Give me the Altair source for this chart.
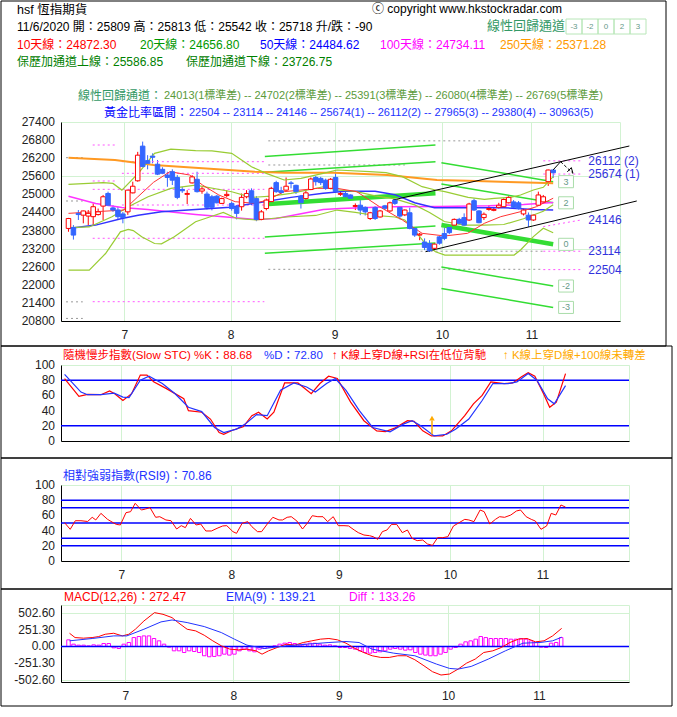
import altair as alt
import pandas as pd

FONT = "Liberation Sans, Noto Sans CJK TC, sans-serif"
UP = "#ff0000"
DOWN = "#3366ff"
GRID = "#d2f2d2"

# ---------------- candles (trading-day index) ----------------
OPEN = [23870,23900,24370,24310,24280,24260,24330,24610,25030,24550,
        24480,24350,24420,25050,25450,26600,26120,26270,26000,25830,
        25640,25750,25560,25160,25000,25380,25500,25110,25010,24920,
        24940,24700,24960,24700,24590,24590,24920,25120,24860,24170,
        24530,24760,25390,25120,25140,25380,25300,24940,24860,25160,
        25560,25530,25470,25200,25560,25000,25030,24980,24600,24640,
        24570,24200,24560,24250,24620,24450,24810,24570,24320,24390,
        23870,23650,23420,23370,23210,23590,23700,23900,23980,24170,
        24230,24150,24790,24450,24230,24500,24470,24570,24590,24720,
        24750,24720,24350,24310,24150,24640,24750,25420,25809]
HIGH = [24220,23980,24480,24460,24480,24700,24530,24980,25090,24640,
        24590,24420,25150,25420,26410,26750,26300,26360,26140,25900,
        25750,25830,25640,25250,25140,25640,25750,25250,25090,24980,
        24980,24890,25140,24760,24640,25030,25140,25200,24940,24480,
        24860,25250,25450,25250,25560,25440,25320,24980,25140,25560,
        25610,25580,25520,25540,25750,25080,25100,25000,24700,24810,
        24600,24420,24610,24480,24650,24760,24860,24610,24500,24560,
        23900,23720,23540,23480,23390,23620,23900,23950,24200,24220,
        24370,24720,24860,24480,24400,24640,24560,24720,24870,24940,
        24810,24780,24520,24400,24330,25090,24980,25820,25813]
LOW = [23760,23500,24150,24040,23980,23980,24300,24150,24610,24420,
       24150,24040,24320,25030,25420,25920,25830,26030,25640,25670,
       25250,25310,24840,25050,24680,25360,25060,25020,24500,24470,
       24700,24680,24900,24460,24170,24460,24870,24640,24110,24140,
       24470,24700,25050,25030,25120,25200,25010,24530,24810,25140,
       25290,25310,25150,25170,25050,24950,24880,24820,24480,24310,
       24300,24150,24150,24230,24480,24420,24650,24170,24280,23840,
       23590,23480,23150,23090,23200,23330,23480,23680,23900,23990,
       23950,24120,24450,24040,24150,24460,24440,24530,24570,24700,
       24540,24500,24300,23920,24120,24620,24720,25280,25542]
CLOSE = [24200,23650,24330,24450,24370,24590,24420,24920,24640,24480,
         24260,24230,25140,25270,26300,25920,26030,26230,25670,25700,
         25560,25470,24900,25120,25030,25580,25090,25180,24570,24570,
         24720,24860,25000,24530,24370,24900,25030,24720,24170,24420,
         24810,25200,25090,25060,25270,25360,25090,24720,25050,25510,
         25420,25390,25200,25500,25090,25030,24920,24870,24630,24480,
         24420,24390,24200,24450,24540,24720,24700,24280,24480,23870,
         23650,23680,23240,23130,23350,23380,23540,23730,24170,24040,
         23980,24680,24480,24060,24340,24530,24500,24640,24830,24900,
         24570,24530,24480,24150,24310,24980,24920,25808,25718]

MONTH_TICKS = [11.3, 32.8, 53.8, 75.5, 93.6]
MONTH_LABELS = ["7", "8", "9", "10", "11"]
MAIN_TICKS = list(range(20800, 27401, 600))
MAIN_TICK_LABELS = [str(v) for v in MAIN_TICKS]
PCT_TICKS = [0, 20, 40, 60, 80, 100]
PCT_TICK_LABELS = ["0", "20", "40", "60", "80", "100"]

# ---------------- moving averages / bands ----------------
MA10_X = [0,5,11.2,13.9,17.2,20.5,24.5,27.1,30.4,33.7,37.7,40.3,43.6,47,50.3,54.3,58.3,62.9,67.5,71.5,76.1,80.7,84.1,87.4,91.4,94.6,98]
MA10_Y = [24370,24420,24480,24900,25400,25752,25642,25310,24979,24757,24703,24813,25089,25144,25199,25200,25089,24590,24150,23708,23620,23708,24040,24260,24425,24590,24872]
MID_X = [0,4.2,8.8,12.1,16.1,20.7,25.7,33,37,41,45,51.5,54.3,58,62,66,70,73,76,80,84,88,92,96,98]
MID_Y = [23900,23920,24256,24588,24920,25197,25308,25086,24898,24943,25031,25252,25150,25100,24950,24850,24650,24400,24100,23980,23980,24000,24190,24440,24657]
BU_X = [0,7,9,10.8,14.1,17.4,20.7,25.7,29,33,35,37,40,43.6,47,51.5,54.3,60.9,64.2,67.5,71.5,74.2,76.1,80.8,84.1,86.1,89.4,91.4,94,96,98]
BU_Y = [25330,25388,25363,25142,25695,26360,26500,26450,26440,26360,26140,25917,25695,25476,25532,25695,25808,25752,25720,25587,25254,25144,25089,24902,24836,24869,24902,24979,25144,25233,25587]
BL_X = [0,4.2,7.5,10.5,12.1,13.1,14.8,17.4,18.8,21.4,25.7,28.7,31.3,34,38,44,50,54.3,58,62,66,68,70,72,74.2,76.1,82,90.1,91.4,94,96,98]
BL_Y = [22485,22485,23038,23758,23836,23800,23592,23370,23360,23592,24090,24256,24400,24200,24150,24250,24300,24480,24400,24300,24250,24150,23800,23400,23098,22988,22988,22988,23154,23597,23874,23727]
MA50_X = [0,5.5,10.8,14.1,18.8,25.7,32.7,39.6,45,51.5,56,62,66,70,74,80,88,94,98]
MA50_Y = [23870,23980,24200,24310,24420,24500,24570,24757,24900,25035,25100,25100,24990,24720,24560,24560,24560,24500,24485]
MA100_X = [0,5.5,10.8,16,25.7,31.3,38,42,51.5,55,65,75,85,92,98]
MA100_Y = [24940,24700,24566,24500,24334,24256,24168,24200,24500,24530,24590,24600,24620,24660,24734]
MA250_X = [0,9.4,17.2,27.1,37.7,43.6,53.6,64.5,74.5,80.7,87.4,94.6,98]
MA250_Y = [26216,26140,25974,25864,25752,25720,25720,25642,25476,25450,25420,25388,25371]

# ---------------- regression channels ----------------
CH_LABELS = ["3", "2", "0", "-2", "-3"]
CH1_X = [39.7, 74.2]
CH1_START = [26256, 25731, 24670, 23590, 23050]
CH1_END = [26637, 26084, 25035, 23950, 23390]
CH2_X = [75.4, 98.0]
CH2_START = [26050, 25340, 23983, 22590, 21880]
CH2_END = [25420, 24720, 23343, 21960, 21250]
TREND_UP = [(65.6, 24813), (113.4, 26604)]
TREND_LO = [(72.2, 23098), (114.9, 24780)]
ARROW_SOLID = [(98, 25813), (99.5, 26083)]
ARROW_DASH = [(99.5, 26083), (102, 25698)]
ARROW_HEAD = [(101.67, 25887), (102, 25698), (100.85, 25745)]

# ---------------- horizontal levels ----------------
MAG_SEG_Y = [26637, 26084, 25698, 25443, 25167, 24647, 23543, 21440]
MAG_SEG_X1 = [4.9, 10.8, 10.8, 4.9, 4.9, 10.8, 4.9, 4.9]
MAG_SEG_X2 = [9.8, 39.6, 39.6, 9.8, 39.6, 39.6, 39.6, 39.6]
GREY_SEG_Y = [26216, 24780, 21435, 20885, 26775, 25974, 23114, 22514]
GREY_SEG_X1 = [-0.5, -0.5, -0.5, -0.5, 40.4, 40.4, 54, 40.4]
GREY_SEG_X2 = [2.9, 2.9, 2.9, 2.9, 87.7, 68, 96, 96]
GOLD_LABELS = ["26112 (2)", "25674 (1)", "24146", "23114", "22504"]
GOLD_Y = [26112, 25674, 24146, 23114, 22504]
GOLD_Y0 = [26112, 25674, 23930, 23114, 22504]

# ---------------- stochastic ----------------
K_X = [0.2,3.0,4.7,7.3,9.0,10.0,11.6,13.3,15.0,16.3,17.6,20.1,23.5,24.4,27.0,28.7,30.4,31.3,33.0,35.1,
       36.8,38.1,39.8,41.1,43.2,45.8,48.4,50.1,51.8,53.5,56.1,58.7,61.2,62.9,64.7,67.2,68.5,70.2,71.9,74.1,
       75.8,78.4,80.1,81.8,83.5,86.1,87.8,89.5,90.8,92.1,93.8,95.0,96.3,98.1]
K_Y = [82.2,58.7,61.3,60.9,65.8,62.2,53.3,62.2,86.7,86.7,77.8,68.9,55.6,40,37.8,28.9,11.1,8.9,14.2,18.7,
       33.3,37.8,28.9,37.8,76.4,76.4,62.2,75.6,85.3,82.2,51.1,26.7,13.3,12.4,16.9,26.7,25.8,13.3,6.7,6.7,
       13.3,33.3,48.9,60,77.8,75.6,76.4,84.4,89.8,85.3,62.2,44.4,51.1,88.7]
D_X = [0.2,3.4,4.7,7.3,9.9,11.6,12.8,15.0,16.7,19.3,21.8,24.4,27.0,29.5,31.3,33.8,35.5,37.7,39.8,42.4,
       45.0,47.5,49.2,51.4,53.1,55.2,57.8,60.4,63.8,66.4,68.1,69.8,72.4,74.9,76.6,79.2,81.8,83.9,86.9,88.6,
       90.8,92.5,94.6,95.9,98.1]
D_Y = [87.6,64.4,60.9,60.9,63,57.8,57,80,85.3,75.6,62.2,44.4,38.7,17.8,11.1,15.6,22.2,34.7,33.3,66.7,
       76.4,71,64.4,75.6,82.2,66.7,40,17.8,12,22.2,26.7,20,6.7,8.9,15.6,28.9,53.3,75.6,75.6,77.8,
       88.9,80,55.6,48.9,72.8]
STOCH_BANDS = [20, 80]
STOCH_SIGNAL_X = 72

# ---------------- RSI ----------------
RSI_X = [0.2,1.3,2.3,3.4,4.7,5.6,6.3,7.3,8.6,9.7,10.3,11.1,12.2,13.1,14.0,15.2,16.0,16.9,18.0,18.8,
         20.0,21.0,22.1,23.0,23.8,24.8,25.9,26.8,27.8,28.9,30.0,31.1,31.9,33.1,33.8,34.9,36.0,36.8,37.9,38.7,
         40.0,40.9,42.1,42.8,43.7,44.5,45.6,46.7,47.7,48.6,49.7,50.7,51.6,52.7,53.7,54.8,55.7,56.8,57.6,58.7,
         59.8,60.5,61.4,62.3,63.2,64.1,65.1,66.2,67.2,68.1,69.1,70.2,71.1,72.1,73.1,74.1,75.1,76.2,77.1,78.4,
         79.2,80.2,81.4,82.2,83.3,84.4,85.2,86.2,87.4,88.5,89.3,90.4,91.4,92.2,93.3,94.4,95.3,96.2,97.2,98.1]
RSI_Y = [50.4,41.7,53,53,52,57.5,54,62.7,54.8,50.4,48.2,47.4,63.6,64.9,75.9,67.1,68.4,70.2,57.5,58.3,
         54,53,42.1,46.5,43.9,56.1,47.4,48.7,39.5,39.5,43,46.1,46.5,38.6,36.4,49.6,51.8,45.2,38.6,38.6,
         50.4,57.5,54,54,57.5,58.3,52.6,42.1,50.4,59.6,58.3,58.3,51.8,58.3,46.5,46.5,46.1,40.8,37.3,34.2,
         33.3,32,28.5,38.6,40.8,48.2,48.2,37.3,40.8,29.8,26.8,27.6,22.4,20.6,30.7,30.7,32,46.1,49.6,54.8,
         54,51.8,67.1,64.9,48.7,54.8,58.3,57.5,60.5,65.8,67.1,58.3,54.8,52.6,41.7,46.1,62.7,60.5,73.7,70.9]
RSI_BANDS = [20, 30, 50, 70, 80]

# ---------------- MACD ----------------
MACD_X = [0.2,1.3,3.0,4.7,6.0,7.3,9.0,10.7,12.0,13.3,15.0,17.1,18.8,20.6,21.8,23.6,25.3,27.0,28.7,30.4,
          32.1,33.8,35.5,37.3,38.5,39.8,41.5,43.3,45.0,46.7,48.4,50.1,51.8,53.5,55.2,57.0,58.7,60.4,62.1,63.8,
          65.5,67.2,68.9,70.7,72.4,74.1,75.8,77.5,79.2,80.9,82.6,84.4,86.1,87.8,89.5,91.2,92.9,94.6,96.3,98.1]
MACD_Y = [199,134,125,134,149,184,199,159,184,259,383,508,483,433,359,259,234,169,85,10,
          -40,-50,-40,-65,-115,-65,-15,35,20,60,85,110,120,100,50,-30,-90,-139,-164,-164,
          -139,-139,-199,-289,-378,-428,-413,-339,-249,-189,-90,-65,-15,60,110,120,70,85,159,272]
EMA_X = [0.2,4.7,9.0,11.6,15.0,18.4,20.6,23.6,27.0,30.4,33.0,35.5,39.0,43.3,47.5,51.8,55.2,57.8,60.4,64.7,
         68.9,73.2,75.8,77.5,80.1,83.5,86.9,90.4,93.8,96.3,98.1]
EMA_Y = [85,120,159,159,259,369,398,359,299,209,110,20,-30,10,35,60,75,60,-40,-100,
         -139,-264,-329,-339,-299,-189,-65,50,60,85,139]
DIFF = [100,35,20,20,10,25,20,45,45,-20,
        -30,35,60,134,150,159,159,120,85,35,
        -10,-65,-65,-90,-65,-75,-90,-139,-154,-149,
        -139,-115,-129,-115,-65,-40,-65,-80,-40,-30,
        -15,10,35,50,60,45,20,35,50,50,
        35,20,25,10,-15,-15,-30,-40,-65,-90,
        -100,-90,-80,-65,-40,-30,-40,-55,-50,-90,
        -115,-129,-139,-139,-115,-90,-40,-15,35,70,
        85,110,150,134,120,120,120,120,110,110,
        120,110,85,60,-10,-15,50,60,134]
MACD_TICKS = [-502.6, -251.3, 0, 251.3, 502.6]
MACD_TICK_LABELS = ["-502.60", "-251.30", "0.00", "251.30", "502.60"]

# ---------------- texts ----------------
T_TITLE = "hsf 恆指期貨"
T_COPY = "ⓒ copyright www.hkstockradar.com"
T_QUOTE = "11/6/2020 開：25809 高：25813 低：25542 收：25718 升/跌：-90"
T_REG = "線性回歸通道"
MA_TEXTS = ["10天線：24872.30", "20天線：24656.80", "50天線：24484.62", "100天線：24734.11", "250天線：25371.28"]
MA_TEXT_X = [17, 140, 260, 380, 500]
MA_COLORS = ["#ff0000", "#009900", "#0000ff", "#ff00ff", "#ff9900"]
BOLL_TEXTS = ["保歷加通道上線：25586.85", "保歷加通道下線：23726.75"]
REG_LABEL = "線性回歸通道："
REG_VALUES = "24013(1標準差) -- 24702(2標準差) -- 25391(3標準差) -- 26080(4標準差) -- 26769(5標準差)"
GOLD_LABEL = "黃金比率區間："
GOLD_VALUES = "22504 -- 23114 -- 24146 -- 25674(1) -- 26112(2) -- 27965(3) -- 29380(4) -- 30963(5)"
STOCH_TITLES = ["隨機慢步指數(Slow STC) %K：88.68", "%D：72.80", "↑ K線上穿D線+RSI在低位背馳", "↑ K線上穿D線+100線未轉差"]
RSI_TITLE = "相對強弱指數(RSI9)：70.86"
MACD_TITLES = ["MACD(12,26)：272.47", "EMA(9)：139.21", "Diff：133.26"]

# ================= helpers =================
ONE = pd.DataFrame({"k": [0]})
XSC = alt.Scale(domain=[-0.5, 110.5], nice=False, zero=False)
YMAIN = alt.Scale(domain=[20800, 27400], nice=False, zero=False)
Y100 = alt.Scale(domain=[0, 100], nice=False, zero=False)
YMACD = alt.Scale(domain=[-532.6, 622.6], nice=False, zero=False)


def label_expr(ticks, labels):
    expr = "''"
    for t, l in reversed(list(zip(ticks, labels))):
        expr = f"abs(datum.value - ({t})) < 0.5 ? '{l}' : {expr}"
    return expr


LEXPR = label_expr(MONTH_TICKS, MONTH_LABELS)


def xaxis(labels=True):
    kw = dict(values=MONTH_TICKS, grid=True, ticks=False, title="", domainColor="black",
              gridColor=GRID, labelFont=FONT, labelFontSize=12, labelColor="#222222",
              labelPadding=8, labelOverlap=False)
    if labels:
        kw["labelExpr"] = LEXPR
    else:
        kw["labels"] = False
    return alt.Axis(**kw)


def yaxis(values):
    return alt.Axis(values=values, grid=True, ticks=False, title="", domainColor="black",
                    gridColor=GRID, labels=False)


def ylabels(ticks, labels, ysc):
    df = pd.DataFrame({"v": ticks, "t": labels})
    return alt.Chart(df).mark_text(align="right", baseline="middle", fontSize=12, font=FONT,
                                   color="#222222").encode(
        x=alt.value(-6), y=alt.Y("v:Q", scale=ysc), text="t:N")


def txt(s, x, y, ox, oy, color="black", size=12, align="left"):
    return alt.Chart(ONE).mark_text(text=s, align=align, baseline="middle", color=color,
                                    fontSize=size, font=FONT).encode(
        x=alt.value(x - ox), y=alt.value(y - oy))


def box(x1, y1, x2, y2, ox, oy, color="black"):
    return alt.Chart(ONE).mark_rect(fillOpacity=0, stroke=color, strokeWidth=1).encode(
        x=alt.value(x1 - ox), x2=alt.value(x2 - ox), y=alt.value(y1 - oy), y2=alt.value(y2 - oy))


def line(xs, ys, color, width, ysc, dash=None):
    df = pd.DataFrame({"x": xs, "y": ys})
    kw = dict(color=color, strokeWidth=width)
    if dash:
        kw["strokeDash"] = dash
    return alt.Chart(df).mark_line(**kw).encode(
        x=alt.X("x:Q", scale=XSC), y=alt.Y("y:Q", scale=ysc))


def segs(x1, x2, y1, y2, color, width=1, dash=None, ysc=YMAIN):
    df = pd.DataFrame({"x1": x1, "x2": x2, "y1": y1, "y2": y2})
    kw = dict(color=color, strokeWidth=width)
    if dash:
        kw["strokeDash"] = dash
    return alt.Chart(df).mark_rule(**kw).encode(
        x=alt.X("x1:Q", scale=XSC), x2="x2:Q",
        y=alt.Y("y1:Q", scale=ysc), y2="y2:Q")


# ================= main panel =================
OX, OY = 61, 122
cdf = pd.DataFrame({"i": list(range(len(OPEN))), "O": OPEN, "H": HIGH, "L": LOW, "C": CLOSE})
cdf["up"] = (cdf["C"] >= cdf["O"]).astype(int)

wicks = alt.Chart(cdf).mark_rule(strokeWidth=1).encode(
    x=alt.X("i:Q", scale=XSC, axis=xaxis(True)),
    y=alt.Y("L:Q", scale=YMAIN, axis=yaxis(MAIN_TICKS)),
    y2="H:Q",
    color=alt.condition(alt.datum.up == 1, alt.value(UP), alt.value(DOWN)))
bodies = alt.Chart(cdf).mark_bar(size=4.5, strokeWidth=1).encode(
    x=alt.X("i:Q", scale=XSC),
    y=alt.Y("O:Q", scale=YMAIN), y2="C:Q",
    fill=alt.condition(alt.datum.up == 1, alt.value("white"), alt.value(DOWN)),
    stroke=alt.condition(alt.datum.up == 1, alt.value(UP), alt.value(DOWN)))

layers = [wicks, ylabels(MAIN_TICKS, MAIN_TICK_LABELS, YMAIN)]
layers.append(segs(MAG_SEG_X1, MAG_SEG_X2, MAG_SEG_Y, MAG_SEG_Y, "#ff55ff", 1, [2, 3]))
layers.append(segs(GREY_SEG_X1, GREY_SEG_X2, GREY_SEG_Y, GREY_SEG_Y, "#999999", 1, [2, 3]))
layers.append(segs([96.0] * 5, [103.5] * 5, GOLD_Y0, GOLD_Y, "#ff55ff", 1, [2, 3]))

widths = [1.5, 1.5, 4.5, 1.5, 1.5]
for s, e, w in zip(CH1_START, CH1_END, widths):
    layers.append(line(CH1_X, [s, e], "#33dd33", w, YMAIN))
for s, e, w in zip(CH2_START, CH2_END, widths):
    layers.append(line(CH2_X, [s, e], "#33dd33", w, YMAIN))

layers.append(line(MA250_X, MA250_Y, "#ff9922", 2, YMAIN))
layers.append(line(MA100_X, MA100_Y, "#ff33ff", 1.5, YMAIN))
layers.append(line(MA50_X, MA50_Y, "#3333ff", 1.5, YMAIN))
layers.append(line(BU_X, BU_Y, "#99cc33", 1.2, YMAIN))
layers.append(line(BL_X, BL_Y, "#99cc33", 1.2, YMAIN))
layers.append(line(MID_X, MID_Y, "#99cc33", 1.2, YMAIN))
layers.append(line(MA10_X, MA10_Y, "#ff3333", 1, YMAIN))

layers.append(line([p[0] for p in TREND_UP], [p[1] for p in TREND_UP], "black", 1, YMAIN))
layers.append(line([p[0] for p in TREND_LO], [p[1] for p in TREND_LO], "black", 1, YMAIN))
layers.append(bodies)
layers.append(line([p[0] for p in ARROW_SOLID], [p[1] for p in ARROW_SOLID], "black", 1, YMAIN))
layers.append(line([p[0] for p in ARROW_DASH], [p[1] for p in ARROW_DASH], "black", 1, YMAIN, [3, 2]))
layers.append(line([p[0] for p in ARROW_HEAD], [p[1] for p in ARROW_HEAD], "black", 1, YMAIN))

lab = pd.DataFrame({"t": CH_LABELS, "y": CH2_END})
lab["x1"] = 99.1
lab["x2"] = 102.1
lab["xc"] = 100.6
lab["ya"] = lab["y"] - 200
lab["yb"] = lab["y"] + 200
layers.append(alt.Chart(lab).mark_rect(fill="white", stroke="#aaddaa", strokeWidth=1).encode(
    x=alt.X("x1:Q", scale=XSC), x2="x2:Q",
    y=alt.Y("ya:Q", scale=YMAIN), y2="yb:Q"))
layers.append(alt.Chart(lab).mark_text(fontSize=9, font=FONT, color="#669988").encode(
    x=alt.X("xc:Q", scale=XSC), y=alt.Y("y:Q", scale=YMAIN), text="t:N"))

gl = pd.DataFrame({"t": GOLD_LABELS, "y": GOLD_Y, "x": [105.1] * 5})
layers.append(alt.Chart(gl).mark_text(align="left", fontSize=12, font=FONT, color="#3333dd").encode(
    x=alt.X("x:Q", scale=XSC), y=alt.Y("y:Q", scale=YMAIN), text="t:N"))

layers.append(box(1, 1, 666, 346, OX, OY))
layers.append(txt(T_TITLE, 17, 10, OX, OY, size=12.5))
layers.append(txt(T_COPY, 372, 9, OX, OY))
layers.append(txt(T_QUOTE, 17, 27, OX, OY))
layers.append(txt(T_REG, 487, 26, OX, OY, color="#339966", size=13))
for k, lbl in enumerate(["-3", "-2", "0", "2", "3"]):
    x0 = 566 + 16 * k
    layers.append(box(x0, 19, x0 + 16, 34, OX, OY, color="#b8e6b8"))
    layers.append(txt(lbl, x0 + 8, 26.5, OX, OY, color="#669988", size=8, align="center"))
for s, x, c in zip(MA_TEXTS, MA_TEXT_X, MA_COLORS):
    layers.append(txt(s, x, 45, OX, OY, color=c))
layers.append(txt(BOLL_TEXTS[0], 17, 62, OX, OY, color="#008000"))
layers.append(txt(BOLL_TEXTS[1], 186, 62, OX, OY, color="#008000"))
layers.append(txt(REG_LABEL, 78, 96, OX, OY, color="#339966"))
layers.append(txt(REG_VALUES, 164, 96, OX, OY, color="#5a9a3a", size=11))
layers.append(txt(GOLD_LABEL, 104, 113, OX, OY, color="#0000ff"))
layers.append(txt(GOLD_VALUES, 189, 113, OX, OY, color="#2233ff", size=11))

main = alt.layer(*layers).properties(width=559, height=199)

# ================= stochastic =================
SX, SY = 61, 365
grid_s = alt.Chart(pd.DataFrame({"x": MONTH_TICKS, "y": [50] * 5})).mark_point(opacity=0).encode(
    x=alt.X("x:Q", scale=XSC, axis=xaxis(False)),
    y=alt.Y("y:Q", scale=Y100, axis=yaxis(PCT_TICKS)))
stoch_bands = alt.Chart(pd.DataFrame({"v": STOCH_BANDS})).mark_rule(color="#0000ff", strokeWidth=1.5).encode(
    x=alt.value(0), x2=alt.value(568), y=alt.Y("v:Q", scale=Y100))
sig = pd.DataFrame({"x": [STOCH_SIGNAL_X], "a": [9], "b": [27], "t": [30]})
stoch = alt.layer(
    grid_s, ylabels(PCT_TICKS, PCT_TICK_LABELS, Y100), stoch_bands,
    line(K_X, K_Y, "#ff0000", 1.2, Y100),
    line(D_X, D_Y, "#2233ff", 1.2, Y100),
    alt.Chart(sig).mark_rule(color="#ffaa00", strokeWidth=1.5).encode(
        x=alt.X("x:Q", scale=XSC), y=alt.Y("a:Q", scale=Y100), y2="b:Q"),
    alt.Chart(sig).mark_point(shape="triangle-up", filled=True, size=30, color="#ffaa00", opacity=1).encode(
        x=alt.X("x:Q", scale=XSC), y=alt.Y("t:Q", scale=Y100)),
    box(1, 346, 672, 458, SX, SY),
    txt(STOCH_TITLES[0], 63, 356, SX, SY, color="#ff0000", size=11.5),
    txt(STOCH_TITLES[1], 264, 356, SX, SY, color="#2233ff", size=11.5),
    txt(STOCH_TITLES[2], 332, 356, SX, SY, color="#ff0000", size=11.5),
    txt(STOCH_TITLES[3], 503, 356, SX, SY, color="#ffaa00", size=11.5),
).properties(width=568, height=76)

# ================= RSI =================
RX, RY = 61, 485
grid_r = alt.Chart(pd.DataFrame({"x": MONTH_TICKS, "y": [50] * 5})).mark_point(opacity=0).encode(
    x=alt.X("x:Q", scale=XSC, axis=xaxis(True)),
    y=alt.Y("y:Q", scale=Y100, axis=yaxis(PCT_TICKS)))
rsi_bands = alt.Chart(pd.DataFrame({"v": RSI_BANDS})).mark_rule(color="#0000ff", strokeWidth=1.5).encode(
    x=alt.value(0), x2=alt.value(568), y=alt.Y("v:Q", scale=Y100))
rsi = alt.layer(
    grid_r, ylabels(PCT_TICKS, PCT_TICK_LABELS, Y100), rsi_bands,
    line(RSI_X, RSI_Y, "#ff0000", 1, Y100),
    box(1, 458, 672, 589, RX, RY),
    txt(RSI_TITLE, 63, 476, RX, RY, color="#2233ff"),
).properties(width=568, height=76)

# ================= MACD =================
MX, MY = 61, 605
ddf = pd.DataFrame({"x": list(range(len(DIFF))), "d": DIFF, "z": [0] * len(DIFF)})
diff_bars = alt.Chart(ddf).mark_bar(size=3.5, fill="white", stroke="#ff00ff", strokeWidth=1).encode(
    x=alt.X("x:Q", scale=XSC, axis=xaxis(True)),
    y=alt.Y("d:Q", scale=YMACD, axis=yaxis(MACD_TICKS)), y2="z:Q")
zero = alt.Chart(pd.DataFrame({"v": [0]})).mark_rule(color="#0000ff", strokeWidth=1.5).encode(
    x=alt.value(0), x2=alt.value(568), y=alt.Y("v:Q", scale=YMACD))
macd = alt.layer(
    diff_bars, ylabels(MACD_TICKS, MACD_TICK_LABELS, YMACD), zero,
    line(MACD_X, MACD_Y, "#ff0000", 1, YMACD),
    line(EMA_X, EMA_Y, "#2233ff", 1, YMACD),
    box(1, 589, 672, 706, MX, MY),
    txt(MACD_TITLES[0], 64, 597, MX, MY, color="#ff0000"),
    txt(MACD_TITLES[1], 226, 597, MX, MY, color="#2233ff"),
    txt(MACD_TITLES[2], 349, 597, MX, MY, color="#ff00ff"),
).properties(width=568, height=77)

chart = alt.vconcat(main, stoch, rsi, macd, spacing=44, bounds="flush").properties(
    padding=0, background="white"
).configure_view(stroke=GRID)

chart.save("out.html", embed_options={"renderer": "svg", "actions": False})
